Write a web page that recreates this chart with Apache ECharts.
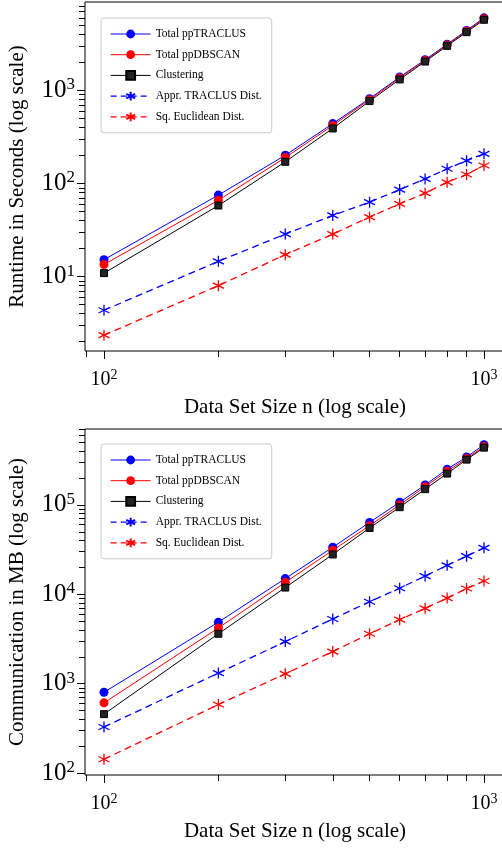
<!DOCTYPE html>
<html>
<head>
<meta charset="utf-8">
<title>ppTRACLUS runtime and communication</title>
<script src="https://cdn.jsdelivr.net/npm/echarts@6.0.0/dist/echarts.min.js"></script>
<style>
  html, body { margin: 0; padding: 0; background: #fff; overflow: hidden; }
  #chart { width: 502px; height: 850px; }
</style>
</head>
<body>
<div id="chart"></div>
<script>
// data set sizes n
const sizes = [100, 200, 300, 400, 500, 600, 700, 800, 900, 1000]

// runtime in seconds
const rtTraclus = [15.2, 75, 201, 440, 815, 1390, 2130, 3130, 4400, 6010]
const rtDbscan = [13.5, 66, 190, 420, 795, 1360, 2090, 3080, 4320, 5880]
const rtClustering = [10.9, 58, 171, 390, 767, 1310, 2040, 3010, 4220, 5730]
const rtApprDist = [4.35, 14.6, 28.6, 45.4, 63, 86, 112, 144, 176, 208]
const rtSqEucl = [2.35, 8.0, 17.2, 28.6, 43.5, 60.5, 78.7, 103, 125, 156]

// communication in MB
const cmTraclus = [802, 4880, 15000, 33600, 63700, 107000, 167000, 251000, 343000, 471000]
const cmDbscan = [611, 4200, 13600, 31100, 58500, 100000, 160000, 238000, 330000, 451000]
const cmClustering = [457, 3620, 11900, 27900, 55200, 94300, 150000, 224000, 321000, 437000]
const cmApprDist = [328, 1315, 2960, 5300, 8260, 11700, 16000, 21100, 26700, 33100]
const cmSqEucl = [143, 585, 1290, 2290, 3620, 5200, 6970, 9080, 11600, 14100]

// tick values
const xMajor = [100, 1000]
const xMinor = [90, 200, 300, 400, 500, 600, 700, 800, 900]
const rtMajor = [10, 100, 1000]
const rtMinor = [2, 3, 4, 5, 6, 7, 8, 9, 20, 30, 40, 50, 60, 70, 80, 90,
  200, 300, 400, 500, 600, 700, 800, 900, 2000, 3000, 4000, 5000, 6000, 7000, 8000]
const cmMajor = [100, 1000, 10000, 100000]
const cmMinor = [200, 300, 400, 500, 600, 700, 800, 900,
  2000, 3000, 4000, 5000, 6000, 7000, 8000, 9000,
  20000, 30000, 40000, 50000, 60000, 70000, 80000, 90000,
  200000, 300000, 400000, 500000, 600000, 700000]

const legendNames = ['Total ppTRACLUS', 'Total ppDBSCAN', 'Clustering', 'Appr. TRACLUS Dist.', 'Sq. Euclidean Dist.']

const FONT = 'Liberation Serif'
const asterisk = 'path://M0,-10L0,10M-8.66,-5L8.66,5M-8.66,5L8.66,-5'

const xRange = [89.13, 1136]
const rtRange = [1.589, 8892]
const cmRange = [95.3, 706000]

const chartInstance = echarts.init(document.getElementById('chart'), null, { renderer: 'canvas' })

function powLabel (value) {
  const e = Math.round(Math.log10(value))
  return '10{sup|' + e + '}'
}

function xAxes (gridIndex, name) {
  return [
    {
      type: 'log',
      gridIndex: gridIndex,
      position: 'bottom',
      min: xRange[0],
      max: xRange[1],
      name: name,
      nameLocation: 'middle',
      nameGap: 46,
      nameTextStyle: { fontFamily: FONT, fontSize: 21, color: '#000' },
      axisLine: { show: false },
      splitLine: { show: false },
      axisTick: { show: true, length: 8, customValues: xMajor, lineStyle: { color: '#000', width: 1 } },
      axisLabel: {
        customValues: xMajor,
        margin: 17,
        formatter: powLabel,
        fontFamily: FONT,
        fontSize: 20,
        color: '#000',
        rich: { sup: { fontFamily: FONT, fontSize: 14, color: '#000', padding: [0, 0, 9, 0] } }
      }
    },
    {
      type: 'log',
      gridIndex: gridIndex,
      position: 'bottom',
      min: xRange[0],
      max: xRange[1],
      axisLine: { show: false },
      splitLine: { show: false },
      axisLabel: { show: false },
      axisTick: { show: true, length: 6, customValues: xMinor, lineStyle: { color: '#000', width: 1 } }
    }
  ]
}

function yAxes (gridIndex, name, range, major, minor) {
  return [
    {
      type: 'log',
      gridIndex: gridIndex,
      position: 'left',
      min: range[0],
      max: range[1],
      name: name,
      nameLocation: 'middle',
      nameGap: 57,
      nameTextStyle: { fontFamily: FONT, fontSize: 21, color: '#000' },
      axisLine: { show: false },
      splitLine: { show: false },
      axisTick: { show: true, length: 8, customValues: major, lineStyle: { color: '#000', width: 1 } },
      axisLabel: {
        customValues: major,
        margin: 10,
        formatter: powLabel,
        fontFamily: FONT,
        fontSize: 25,
        color: '#000',
        rich: { sup: { fontFamily: FONT, fontSize: 17, color: '#000', padding: [0, 0, 11, 0] } }
      }
    },
    {
      type: 'log',
      gridIndex: gridIndex,
      position: 'left',
      min: range[0],
      max: range[1],
      axisLine: { show: false },
      splitLine: { show: false },
      axisLabel: { show: false },
      axisTick: { show: true, length: 6, customValues: minor, lineStyle: { color: '#000', width: 1 } }
    }
  ]
}

function pairs (values) {
  return sizes.map((n, i) => [n, values[i]])
}

const seriesStyles = [
  { color: '#0000ff', symbol: 'circle', size: 9, dashed: false },
  { color: '#ff0000', symbol: 'circle', size: 9, dashed: false },
  { color: '#000000', symbol: 'rect', size: 7, dashed: false },
  { color: '#0000ff', symbol: asterisk, size: 11, dashed: true },
  { color: '#ff0000', symbol: asterisk, size: 11, dashed: true }
]

function makeSeries (axisIndex, arrs) {
  return arrs.map((values, i) => {
    const s = seriesStyles[i]
    return {
      type: 'line',
      name: legendNames[i],
      xAxisIndex: axisIndex,
      yAxisIndex: axisIndex,
      data: pairs(values),
      symbol: s.symbol,
      symbolSize: s.size,
      showAllSymbol: true,
      lineStyle: s.dashed
        ? { color: s.color, width: 1.3, type: [7, 4.5] }
        : { color: s.color, width: 1 },
      itemStyle: s.dashed
        ? { color: s.color, borderColor: s.color, borderWidth: 1.3 }
        : (s.symbol === 'rect'
            ? { color: '#222', borderColor: '#000', borderWidth: 1 }
            : { color: s.color, borderWidth: 0 }),
      emphasis: { disabled: true }
    }
  })
}

function makeLegend (top) {
  return {
    orient: 'vertical',
    left: 101,
    top: top,
    padding: [10, 10, 10, 9],
    itemWidth: 40,
    itemHeight: 11,
    itemGap: 8.7,
    data: legendNames.map((name, i) => ({
      name: name,
      lineStyle: seriesStyles[i].dashed
        ? { width: 1.3, type: [6, 4] }
        : { width: 1 }
    })),
    backgroundColor: '#fff',
    borderColor: '#cccccc',
    borderWidth: 1,
    borderRadius: 3,
    textStyle: { fontFamily: FONT, fontSize: 11.5, color: '#000' },
    selectedMode: false
  }
}

const gridBase = { left: 85, width: 420, show: true, borderColor: '#000', borderWidth: 1, backgroundColor: 'transparent', outerBoundsMode: 'none', containLabel: false }

const option = {
  animation: false,
  backgroundColor: '#fff',
  grid: [
    Object.assign({}, gridBase, { top: 2, height: 349 }),
    Object.assign({}, gridBase, { top: 429, height: 346 })
  ],
  xAxis: [].concat(xAxes(0, 'Data Set Size n (log scale)'), xAxes(1, 'Data Set Size n (log scale)')),
  yAxis: [].concat(
    yAxes(0, 'Runtime in Seconds (log scale)', rtRange, rtMajor, rtMinor),
    yAxes(1, 'Communication in MB (log scale)', cmRange, cmMajor, cmMinor)
  ),
  legend: [makeLegend(18), makeLegend(444)],
  series: [].concat(
    makeSeries(0, [rtTraclus, rtDbscan, rtClustering, rtApprDist, rtSqEucl]),
    makeSeries(2, [cmTraclus, cmDbscan, cmClustering, cmApprDist, cmSqEucl])
  )
}

chartInstance.setOption(option)
</script>
</body>
</html>
